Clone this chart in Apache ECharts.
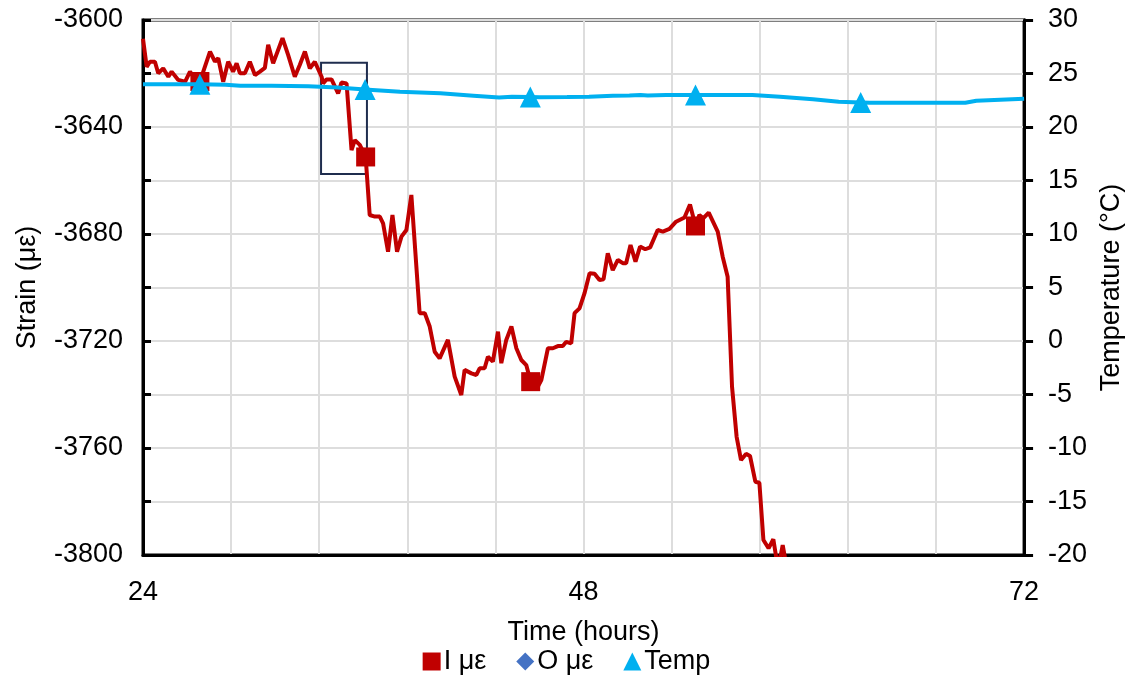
<!DOCTYPE html>
<html>
<head>
<meta charset="utf-8">
<script src="https://cdn.jsdelivr.net/npm/echarts@6/dist/echarts.min.js"></script>
<style>html,body{margin:0;padding:0;background:#fff}#c{width:1133px;height:685px}</style>
</head>
<body>
<div id="c"></div>
<script>
// ---- data ----
const iTime = [24.0,24.2,24.38,24.65,24.83,25.1,25.38,25.56,25.92,26.29,26.56,26.74,27.1,27.37,27.65,27.92,28.1,28.37,28.64,28.91,29.1,29.28,29.55,29.82,30.1,30.37,30.64,30.82,31.09,31.6,31.91,32.27,32.54,32.82,33.09,33.36,33.73,33.81,34.0,34.27,34.63,34.81,35.09,35.36,35.54,35.81,36.13,36.35,36.63,36.9,37.08,37.35,37.59,37.84,38.08,38.35,38.62,39.07,39.35,39.62,39.89,40.16,40.61,40.98,41.34,41.52,41.89,42.16,42.34,42.61,42.79,43.06,43.34,43.52,43.79,44.07,44.34,44.61,44.88,45.12,45.42,45.7,46.06,46.33,46.6,46.87,47.06,47.33,47.51,47.78,48.05,48.33,48.6,48.87,49.09,49.32,49.59,49.87,50.14,50.32,50.56,50.83,51.08,51.36,51.63,52.04,52.32,52.68,53.04,53.5,53.8,54.1,54.31,54.53,54.82,55.31,55.58,55.85,56.09,56.34,56.58,56.85,57.07,57.36,57.58,57.8,58.08,58.34,58.5,58.72,58.85,59.0];
const iStrain = [-3607,-3617.5,-3615.6,-3615.6,-3619.9,-3618.1,-3621.2,-3619.3,-3622.4,-3623.1,-3619.3,-3621.2,-3623,-3617.5,-3611.8,-3615.6,-3614.3,-3623.1,-3615.6,-3619.3,-3616.2,-3619.9,-3619.9,-3615.6,-3620.6,-3619.3,-3617.9,-3609.3,-3616.2,-3606.8,-3613.1,-3621.2,-3616.8,-3611.8,-3618.1,-3615.6,-3621.2,-3623.7,-3622.2,-3622.2,-3627.4,-3623.4,-3623.7,-3648.6,-3644.9,-3646.7,-3651.2,-3672.9,-3673.5,-3673.5,-3676,-3686.6,-3672.9,-3686.6,-3681,-3678.5,-3665.4,-3709.6,-3709.6,-3714.6,-3724,-3726.5,-3719.6,-3733.3,-3740.2,-3730.8,-3732.1,-3732.7,-3730.2,-3730.2,-3725.9,-3727.7,-3716.5,-3728.3,-3719.6,-3714.6,-3722.7,-3727.1,-3729,-3735.2,-3738.3,-3734.6,-3722.7,-3722.7,-3721.9,-3721.9,-3720.3,-3720.9,-3709.6,-3707.8,-3702.2,-3694.7,-3694.9,-3697.2,-3696.9,-3687.2,-3693.5,-3689.7,-3690.9,-3690.9,-3684.1,-3690.3,-3684.7,-3685.7,-3685,-3678.5,-3679.1,-3678.1,-3675.4,-3673.8,-3669,-3677,-3672.9,-3674.1,-3672,-3679.1,-3688.5,-3696,-3737.1,-3755.8,-3764.5,-3762.2,-3763,-3772.6,-3773,-3794.4,-3797.5,-3794.1,-3801,-3801,-3796.3,-3802];
const oTime = [];
const oStrain = [];
const tempTime = [24.0,25.5,27.1,28.5,29.3,31.0,33.0,34.6,36.1,36.5,38.0,40.2,42.0,43.4,44.1,45.1,45.6,47.1,48.3,49.6,50.5,51.1,51.5,52.5,54.1,57.2,58.7,60.5,61.9,63.1,63.6,68.8,69.4,72.0];
const tempValue = [24.0,24.0,24.0,23.95,23.85,23.85,23.8,23.7,23.5,23.46,23.3,23.15,22.93,22.75,22.83,22.8,22.78,22.8,22.83,22.93,22.95,23.0,22.95,23.0,23.0,23.0,22.83,22.6,22.36,22.3,22.27,22.27,22.46,22.65];
const iMarkerTimes = [27.1,36.13,45.12,54.1];
const tempMarkerTimes = [27.1,36.1,45.1,54.1,63.1];
const boxTime = [33.7,36.2];
const boxStrain = [-3616,-3657.6];
const xLabelTimes = [24,48,72];

// ---- build ----
const FONT = 'Liberation Sans, Arial, sans-serif';
function build(ts, vs, markers, sym, size){
  return ts.map((t,i)=>{
    const isM = markers.some(m=>Math.abs(m-t)<1e-6);
    return isM ? {value:[t,vs[i]], symbol:sym, symbolSize:size} : {value:[t,vs[i]]};
  });
}
const chart = echarts.init(document.getElementById('c'), null, {renderer:'canvas'});
chart.setOption({
  animation:false,
  backgroundColor:'#fff',
  textStyle:{fontFamily:FONT},
  grid:{left:143, right:108, top:20, bottom:130, show:true, borderColor:'#000', borderWidth:3, backgroundColor:'transparent'},
  legend:{
    bottom:5, left:'center', itemWidth:18, itemHeight:18, itemGap:30,
    textStyle:{fontSize:27, color:'#000', fontFamily:FONT, padding:[0,0,0,-2]},
    data:[{name:'I με', icon:'rect'},{name:'O με', icon:'diamond'},{name:'Temp', icon:'triangle'}]
  },
  xAxis:{
    type:'value', min:24, max:72, interval:4.8,
    name:'Time (hours)', nameLocation:'middle', nameGap:64,
    nameTextStyle:{fontSize:27, color:'#000', fontFamily:FONT},
    axisLine:{show:true, onZero:false, lineStyle:{color:'#000', width:3}},
    axisTick:{show:false},
    axisLabel:{fontSize:27, color:'#000', margin:24, fontFamily:FONT,
      formatter:v=>{const m=xLabelTimes.find(x=>Math.abs(x-v)<0.01);return m===undefined?'':String(m);}},
    splitLine:{show:true, lineStyle:{color:'#DDDDDD', width:2}}
  },
  yAxis:[{
    type:'value', min:-3800, max:-3600, interval:20, position:'left',
    name:'Strain (με)', nameLocation:'middle', nameGap:102,
    nameTextStyle:{fontSize:27, color:'#000', fontFamily:FONT},
    axisLine:{show:true, onZero:false, lineStyle:{color:'#000', width:3}},
    axisTick:{show:true, inside:true, length:8, lineStyle:{color:'#000', width:3}},
    axisLabel:{fontSize:27, color:'#000', margin:20, fontFamily:FONT,
      formatter:v=>(Math.round(v)%40===0)?String(Math.round(v)):''},
    splitLine:{show:true, lineStyle:{color:'#DDDDDD', width:2}}
  },{
    type:'value', min:-20, max:30, interval:5, position:'right',
    name:'Temperature (°C)', nameLocation:'middle', nameGap:70,
    nameTextStyle:{fontSize:27, color:'#000', fontFamily:FONT},
    axisLine:{show:true, onZero:false, lineStyle:{color:'#000', width:3}},
    axisTick:{show:true, inside:false, length:9, lineStyle:{color:'#000', width:3}},
    axisLabel:{fontSize:27, color:'#000', margin:24, fontFamily:FONT},
    splitLine:{show:false}
  }],
  series:[{
    name:'I με', type:'line', yAxisIndex:0, symbol:'none', showSymbol:true,
    color:'#C00000', lineStyle:{color:'#C00000', width:4}, itemStyle:{color:'#C00000'},
    clip:true, z:2,
    data: build(iTime, iStrain, iMarkerTimes, 'rect', 19),
    markArea:{silent:true, itemStyle:{color:'rgba(0,0,0,0)', borderColor:'#1F2D4E', borderWidth:2},
      data:[[{coord:[boxTime[0], boxStrain[0]]},{coord:[boxTime[1], boxStrain[1]]}]]}
  },{
    name:'O με', type:'line', yAxisIndex:0, symbol:'diamond', symbolSize:16,
    color:'#4472C4', itemStyle:{color:'#4472C4'}, lineStyle:{color:'#4472C4', width:3},
    data: oTime.map((t,i)=>[t,oStrain[i]])
  },{
    name:'Temp', type:'line', yAxisIndex:1, symbol:'none', showSymbol:true,
    color:'#00B0F0', lineStyle:{color:'#00B0F0', width:4}, itemStyle:{color:'#00B0F0'},
    z:3,
    data: build(tempTime, tempValue, tempMarkerTimes, 'triangle', 21)
  }]
});
</script>
</body>
</html>
